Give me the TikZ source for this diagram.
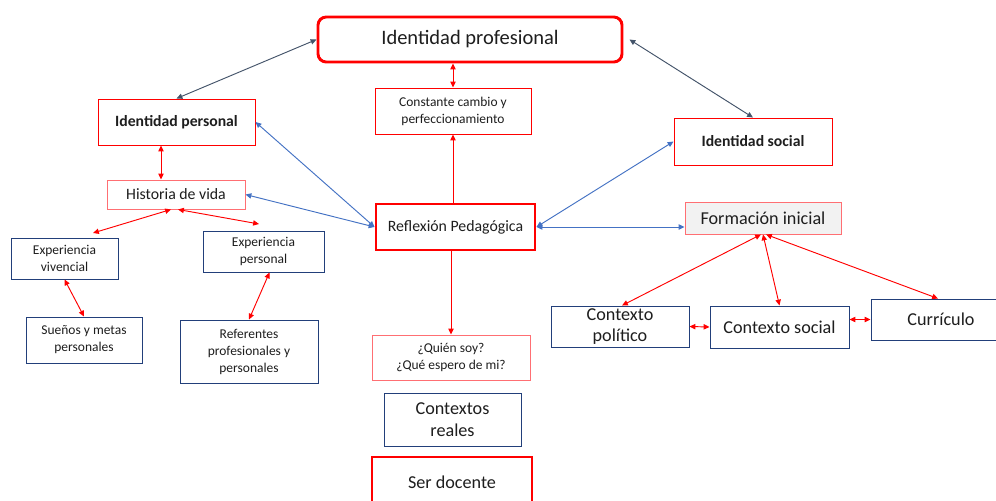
\documentclass[tikz,border=0pt]{standalone}
\usepackage{fontspec}
\setmainfont{Carlito}
\usetikzlibrary{calc,arrows.meta}
\definecolor{boxred}{HTML}{FF0000}
\definecolor{softred}{HTML}{FF6F73}
\definecolor{navyline}{HTML}{223F7A}
\definecolor{linkblue}{HTML}{4472C4}
\definecolor{linkgray}{HTML}{44546A}
\definecolor{formfill}{HTML}{F2F2F2}
\definecolor{inktext}{HTML}{1E1E1E}

\begin{document}
\begin{tikzpicture}[x=0.03cm,y=-0.03cm,
  box/.style 2 args={draw,minimum width=#1*0.03cm,minimum height=#2*0.03cm,inner sep=0pt,align=center,text=inktext,line width=0.8pt},
  mainbox/.style={draw=boxred,line width=2.5pt},
  redbox/.style={draw=boxred},
  softbox/.style={draw=softred},
  navybox/.style={draw=navyline},
  tiny/.style={font=\fontsize{11.5}{14.5}\selectfont},
  mid/.style={font=\fontsize{13.5}{16}\selectfont},
  bold/.style={font=\fontsize{13.4}{16}\selectfont\bfseries},
  big/.style={font=\fontsize{15.5}{18.5}\selectfont},
  huge/.style={font=\fontsize{17.5}{20}\selectfont},
  link/.style={line width=0.8pt,{Triangle[length=5pt,width=4.5pt]}-{Triangle[length=5pt,width=4.5pt]}},
  onelink/.style={line width=0.8pt,-{Triangle[length=5pt,width=4.5pt]}}]
  \clip (0,0) rectangle (996,501);
  \fill[white] (0,0) rectangle (996,501);
  % top
  \node[box={304}{45},mainbox,rounded corners=7pt,huge] (prof) at (470,39.5) {Identidad profesional};
  \node[box={156}{46},redbox,tiny] (const) at (453,111) {Constante cambio y\\perfeccionamiento};
  % left branch
  \node[box={157}{46},redbox,bold] (ipers) at (176.5,122) {Identidad personal};
  \node[box={138}{29},softbox,mid] (hist) at (176,194.5) {Historia de vida};
  \node[box={107}{41},navybox,tiny] (expviv) at (64.5,258.5) {Experiencia\\vivencial};
  \node[box={121}{41},navybox,tiny] (exppers) at (263.5,251.5) {Experiencia\\personal};
  \node[box={116}{46},navybox,tiny] (suenos) at (84,340) {Sueños y metas\\personales};
  \node[box={138}{63},navybox,tiny] (refer) at (249,351.5) {Referentes\\profesionales y\\personales};
  % center column
  \node[box={159}{46},mainbox,mid] (refl) at (455.5,227) {Reflexión Pedagógica};
  \node[box={158}{45},softbox,tiny] (quien) at (451,357.5) {¿Quién soy?\\¿Qué espero de mi?};
  \node[box={137}{53},navybox,big] (ctxreal) at (452.5,419.5) {Contextos\\reales};
  \node[box={160}{50},mainbox,big] (ser) at (452,482) {Ser docente};
  % right branch
  \node[box={158}{47},redbox,bold] (isoc) at (753,141.5) {Identidad social};
  \node[box={156}{32},softbox,fill=formfill,big] (form) at (763,218) {Formación inicial};
  \node[box={138}{41},navybox,big] (ctxpol) at (620,326.5) {Contexto\\político};
  \node[box={139}{42},navybox,big] (ctxsoc) at (779.5,327) {Contexto social};
  \node[box={140}{41},navybox,big] (curr) at (941,319.5) {Currículo};
  % free ends below Historia de vida
  \coordinate (hv1) at (93,233); \coordinate (hv2) at (259,224);
  % gray links
  \draw[link,linkgray] (prof.west) -- (ipers.north);
  \draw[link,linkgray] ($(prof.east)+(6,0)$) -- (isoc.north);
  % blue links
  \draw[link,linkblue] (ipers.east) -- (refl.west);
  \draw[link,linkblue] (hist.east) -- (refl.west);
  \draw[link,linkblue] (refl.east) -- (isoc.west);
  \draw[link,linkblue] (refl.east) -- (refl.east -| form.west);
  % red links
  \draw[link,boxred] (const.north |- prof.south) -- (const.north);
  \draw[onelink,boxred] (const.south |- refl.north) -- (const.south);
  \draw[onelink,boxred] (quien.north |- refl.south) -- (quien.north);
  \draw[link,boxred] ($(ipers.south)+(-15.5,0)$) -- ($(hist.north)+(-15,0)$);
  \draw[link,boxred] ($(hist.south)+(-5,0)$) -- (hv1);
  \draw[link,boxred] ($(hist.south)+(2,0)$) -- (hv2);
  \draw[link,boxred] (expviv.south) -- (suenos.north);
  \draw[link,boxred] ($(exppers.south)+(6,0)$) -- (refer.north);
  \draw[link,boxred] ($(form.south)+(-2,0)$) -- ($(ctxpol.north)+(2,0)$);
  \draw[link,boxred] (form.south) -- (ctxsoc.north);
  \draw[link,boxred] ($(form.south)+(3,0)$) -- ($(curr.north)+(-3,0)$);
  \draw[link,boxred] (ctxpol.east) -- (ctxsoc.west);
  \draw[link,boxred] (ctxsoc.east |- curr.west) -- (curr.west);
\end{tikzpicture}
\end{document}
